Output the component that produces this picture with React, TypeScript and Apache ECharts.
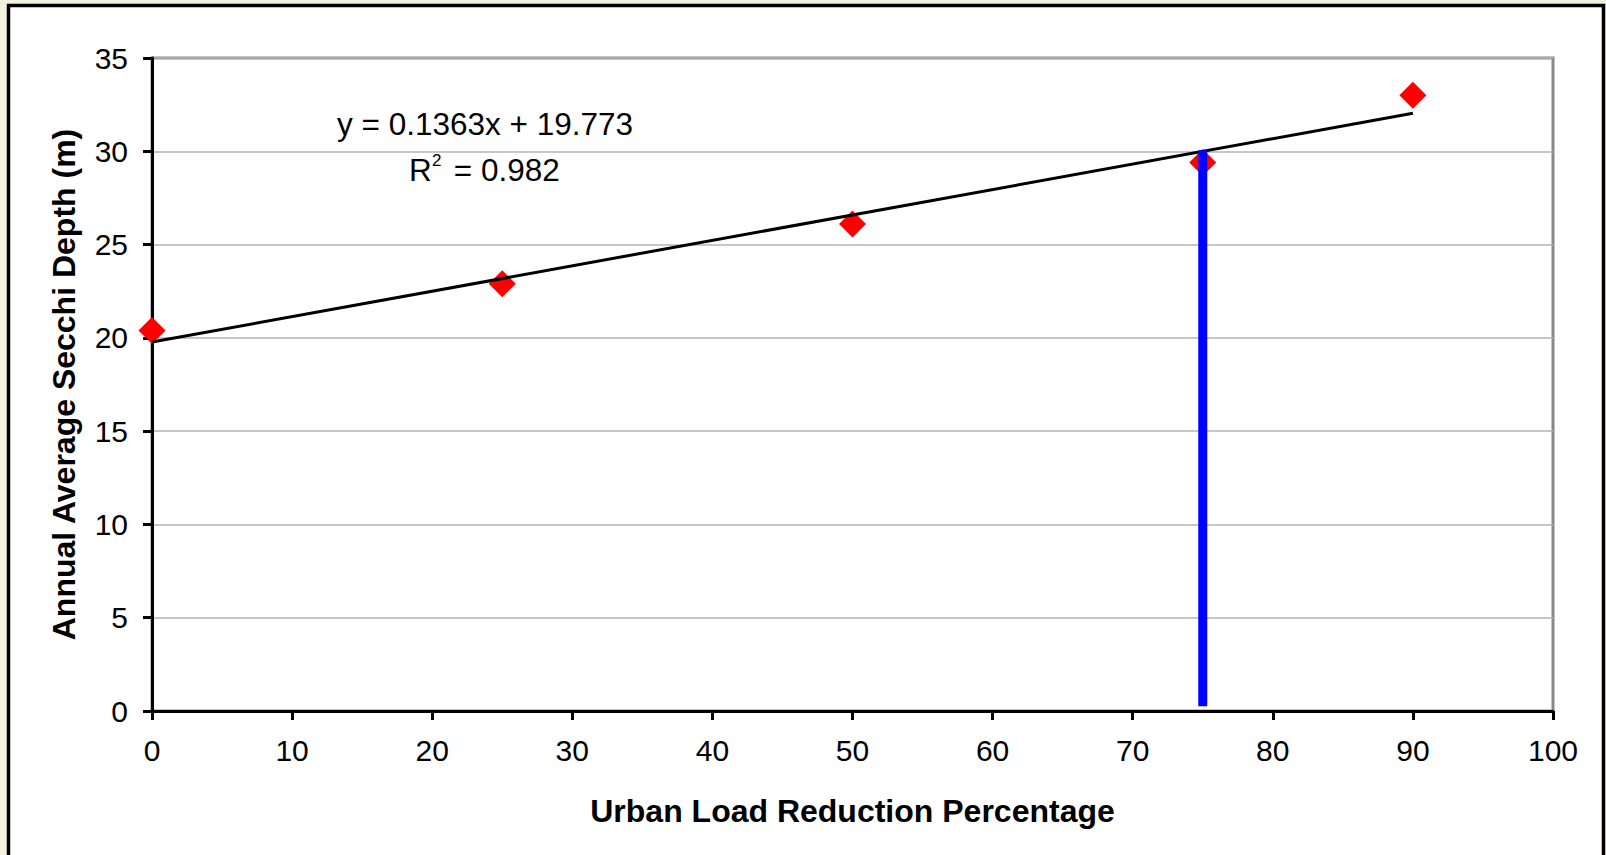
import React, { useEffect, useRef } from "react";
import * as echarts from "echarts";

const reductionPct = [0, 25, 50, 75, 90];
const secchiDepth = [20.4, 22.9, 26.1, 29.4, 33.0];
const trendX = [0, 90];
const trendY = [19.773, 32.04];
const markerX = [75, 75];
const markerY = [0.25, 30.05];
const equationText = "y = 0.1363x + 19.773";
const rSquaredText = "0.982";
const xTitle = "Urban Load Reduction Percentage";
const yTitle = "Annual Average Secchi Depth (m)";

const FONT = "'Liberation Sans', Arial, Helvetica, sans-serif";

export default function App() {
  const ref = useRef<HTMLDivElement>(null);
  useEffect(() => {
    document.body.style.margin = "0";
    const chart = echarts.init(ref.current!, null, { renderer: "svg" });
    chart.setOption({
      animation: false,
      backgroundColor: "#f3f1dd",
      graphic: [
        {
          type: "rect",
          z: -10,
          silent: true,
          shape: { x: 8.5, y: 5.5, width: 1595, height: 900 },
          style: { fill: "#ffffff", stroke: "#000000", lineWidth: 3.5 },
        },
        {
          type: "text",
          x: 485,
          y: 124,
          style: {
            text: equationText,
            font: `31.5px ${FONT}`,
            fill: "#000",
            align: "center",
            verticalAlign: "middle",
          },
        },
        {
          type: "text",
          x: 409,
          y: 170,
          style: {
            text: "R",
            font: `31.5px ${FONT}`,
            fill: "#000",
            align: "left",
            verticalAlign: "middle",
          },
        },
        {
          type: "text",
          x: 432,
          y: 160,
          style: {
            text: "2",
            font: `17px ${FONT}`,
            fill: "#000",
            align: "left",
            verticalAlign: "middle",
          },
        },
        {
          type: "text",
          x: 445,
          y: 170,
          style: {
            text: " = " + rSquaredText,
            font: `31.5px ${FONT}`,
            fill: "#000",
            align: "left",
            verticalAlign: "middle",
          },
        },
      ],
      grid: {
        left: 152,
        top: 58,
        right: 53,
        bottom: 144,
        show: true,
        backgroundColor: "#ffffff",
        borderColor: "#888888",
        borderWidth: 3,
      },
      xAxis: {
        type: "value",
        min: 0,
        max: 100,
        interval: 10,
        name: xTitle,
        nameLocation: "middle",
        nameGap: 84,
        nameTextStyle: { fontFamily: FONT, fontWeight: "bold", fontSize: 32, color: "#000" },
        axisLine: { show: true, onZero: false, lineStyle: { color: "#000", width: 3 } },
        axisTick: { show: true, inside: false, length: 9, lineStyle: { color: "#000", width: 3 } },
        axisLabel: { margin: 24, fontFamily: FONT, fontSize: 30, color: "#000" },
        splitLine: { show: false },
      },
      yAxis: {
        type: "value",
        min: 0,
        max: 35,
        interval: 5,
        name: yTitle,
        nameLocation: "middle",
        nameGap: 72,
        nameTextStyle: { fontFamily: FONT, fontWeight: "bold", fontSize: 32, color: "#000" },
        axisLine: { show: true, onZero: false, lineStyle: { color: "#000", width: 3 } },
        axisTick: { show: true, inside: false, length: 9, lineStyle: { color: "#000", width: 3 } },
        axisLabel: { margin: 24, fontFamily: FONT, fontSize: 30, color: "#000" },
        splitLine: { show: true, lineStyle: { color: "#b4b4b4", width: 1.5 } },
      },
      series: [
        {
          type: "scatter",
          z: 3,
          symbol: "diamond",
          symbolSize: [27, 27],
          itemStyle: { color: "#ff0000", opacity: 1 },
          data: reductionPct.map((x, i) => [x, secchiDepth[i]]),
        },
        {
          type: "line",
          z: 4,
          symbol: "none",
          lineStyle: { color: "#000000", width: 3 },
          data: trendX.map((x, i) => [x, trendY[i]]),
        },
        {
          type: "line",
          z: 5,
          symbol: "none",
          lineStyle: { color: "#0000ff", width: 9, cap: "butt" },
          data: markerX.map((x, i) => [x, markerY[i]]),
        },
      ],
    });
    return () => chart.dispose();
  }, []);
  return <div ref={ref} style={{ width: 1606, height: 855 }} />;
}
